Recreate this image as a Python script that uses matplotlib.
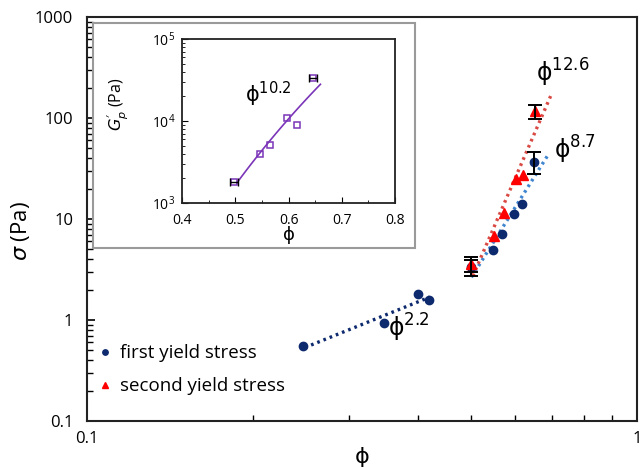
import numpy as np
import matplotlib.pyplot as plt
from matplotlib.patches import Rectangle

plt.rcParams['font.family'] = ['Open Sans', 'DejaVu Sans']
plt.rcParams['mathtext.default'] = 'regular'

# ---------- data ----------
phi_first = [0.247, 0.347, 0.400, 0.419, 0.50, 0.548, 0.568, 0.598, 0.617, 0.650]
sigma_first = [0.553, 0.934, 1.81, 1.58, 3.35, 4.93, 7.10, 11.1, 14.0, 36.9]
err_first = [0, 0, 0, 0, 0.6, 0, 0, 0, 0, 8.7]

phi_second = [0.50, 0.550, 0.573, 0.603, 0.621, 0.652]
sigma_second = [3.6, 6.79, 11.4, 24.9, 27.5, 117.0]
err_second = [0.6, 0, 0, 0, 0, 19.0]

# power-law fits: exponent and phi range
exp_low, range_low = 2.2, (0.249, 0.42)
exp_first, range_first = 8.7, (0.50, 0.69)
exp_second, range_second = 12.6, (0.503, 0.698)

phi_gp = [0.498, 0.546, 0.566, 0.597, 0.616, 0.646]
gp = [1800, 4000, 5100, 10900, 8850, 33500]
gp_xerr = [0.008, 0, 0, 0, 0, 0.008]
exp_gp, range_gp = 10.2, (0.503, 0.66)

navy = '#0d2a6e'
blue_line = '#3f86cf'
red_line = '#d94a45'
purple = '#7b35b8'


def power_fit(x, y, n, xr):
    x = np.asarray(x)
    y = np.asarray(y)
    loga = np.mean(np.log10(y) - n * np.log10(x))
    xs = np.linspace(xr[0], xr[1], 50)
    return xs, 10 ** loga * xs ** n


fig = plt.figure(figsize=(6.41, 4.67), dpi=100)
ax = fig.add_axes([87 / 641, 1 - 421 / 467, 550 / 641, 404 / 467])

# fit lines
m_low = np.array(phi_first) < 0.45
xs, ys = power_fit(np.array(phi_first)[m_low], np.array(sigma_first)[m_low], exp_low, range_low)
ax.plot(xs, ys, ls=(0, (0.8, 1.2)), color=navy, lw=2.4, zorder=2)
xs, ys = power_fit(np.array(phi_first)[~m_low], np.array(sigma_first)[~m_low], exp_first, range_first)
ax.plot(xs, ys, ls=(0, (0.8, 1.2)), color=blue_line, lw=2.4, zorder=2)
xs, ys = power_fit(phi_second, sigma_second, exp_second, range_second)
ax.plot(xs, ys, ls=(0, (0.8, 1.2)), color=red_line, lw=2.4, zorder=2)

ax.plot(phi_first, sigma_first, 'o', color=navy, ms=6, zorder=3, label='first yield stress')
ax.plot(phi_second, sigma_second, '^', color='red', ms=7, zorder=4, label='second yield stress')

# error bars
for x, y, e in zip(phi_first + phi_second, sigma_first + sigma_second, err_first + err_second):
    if e > 0:
        ax.errorbar([x], [y], yerr=[e], fmt='none', ecolor='black', elinewidth=1.4,
                    capsize=5, capthick=1.4, zorder=5)

ax.set_xscale('log')
ax.set_yscale('log')
ax.set_xlim(0.1, 1)
ax.set_ylim(0.1, 1000)
ax.set_xticks([0.1, 1])
ax.set_xticklabels(['0.1', '1'])
ax.set_yticks([0.1, 1, 10, 100, 1000])
ax.set_yticklabels(['0.1', '1', '10', '100', '1000'])
ax.xaxis.set_minor_formatter(plt.NullFormatter())
ax.yaxis.set_minor_formatter(plt.NullFormatter())
ax.tick_params(which='both', direction='in', labelsize=12, top=False, right=False)
ax.tick_params(which='major', length=6, width=1.2)
ax.tick_params(which='minor', length=4, width=1.0)
ax.tick_params(axis='x', pad=7)
ax.tick_params(axis='y', pad=10)
for s in ax.spines.values():
    s.set_linewidth(1.5)
    s.set_color('#222222')

ax.set_xlabel('ϕ', fontsize=16, labelpad=0, family='DejaVu Sans')
ax.set_ylabel(r'$\mathit{\sigma}$ (Pa)', fontsize=16)
ax.yaxis.set_label_coords(-0.1, 0.47)

ax.text(0.655, 280, 'ϕ$^{12.6}$', fontsize=17, va='center', family=['DejaVu Sans'])
ax.text(0.706, 48, 'ϕ$^{8.7}$', fontsize=17, va='center', family=['DejaVu Sans'])
ax.text(0.352, 0.83, 'ϕ$^{2.2}$', fontsize=17, va='center', family=['DejaVu Sans'])

ax.legend(loc='lower left', bbox_to_anchor=(-0.008, 0.022), frameon=False, fontsize=13.5,
          handlelength=0.6, handletextpad=0.5, labelspacing=0.8, markerscale=0.65)

# inset frame
fig.patches.append(Rectangle((93 / 641, 1 - 248 / 467), 322 / 641, 225 / 467,
                             transform=fig.transFigure, facecolor='white',
                             edgecolor='#9a9a9a', lw=1.5, zorder=1))

ins = fig.add_axes([182 / 641, 1 - 203 / 467, 213 / 641, 164 / 467])
ins.set_zorder(5)
xs, ys = power_fit(phi_gp, gp, exp_gp, range_gp)
ins.plot(xs, ys, color=purple, lw=1.2)
ins.plot(phi_gp, gp, 's', mfc='none', mec=purple, ms=5, mew=1.1)
for x, y, e in zip(phi_gp, gp, gp_xerr):
    if e > 0:
        ins.errorbar([x], [y], xerr=[e], fmt='none', ecolor='black', elinewidth=1.0,
                     capsize=3, capthick=1.0)
ins.set_yscale('log')
ins.set_xlim(0.4, 0.8)
ins.set_ylim(1e3, 1e5)
ins.set_xticks([0.4, 0.5, 0.6, 0.7, 0.8])
ins.set_xticks([0.45, 0.55, 0.65, 0.75], minor=True)
ins.yaxis.set_minor_formatter(plt.NullFormatter())
ins.tick_params(which='both', direction='in', labelsize=10, top=False, right=False)
ins.tick_params(which='major', length=4)
ins.tick_params(which='minor', length=2.5)
ins.tick_params(axis='x', pad=7)
ins.tick_params(axis='y', pad=5)
for s in ins.spines.values():
    s.set_linewidth(1.3)
    s.set_color('#222222')
ins.set_xlabel('ϕ', fontsize=13, labelpad=-1, family='DejaVu Sans')
ins.set_ylabel(r"$\mathit{G}_{\mathit{p}}'$ (Pa)", fontsize=11.5, labelpad=2)
ins.yaxis.set_label_coords(-0.24, 0.6)
ins.text(0.518, 21300, 'ϕ$^{10.2}$', fontsize=15, va='center', family=['DejaVu Sans'])

fig.savefig('out.png', dpi=100)
